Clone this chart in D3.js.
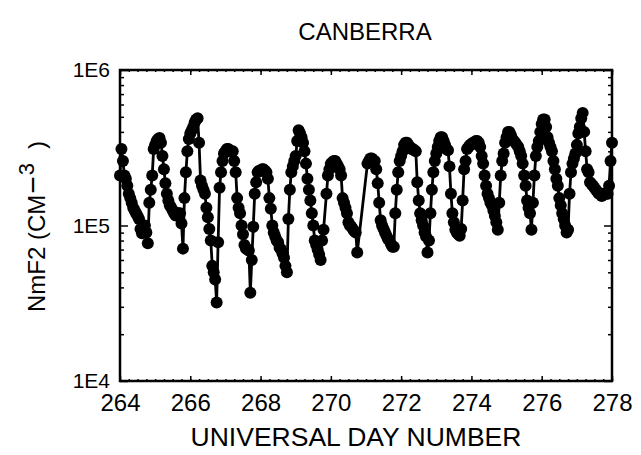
<!DOCTYPE html>
<html>
<head>
<meta charset="utf-8">
<script src="https://cdn.jsdelivr.net/npm/d3@7"></script>
<style>
  body { margin: 0; background: #fff; }
  text { font-family: "Liberation Sans", Arial, sans-serif; fill: #000; }
  .axis path { display: none; }
  .axis line { stroke: #000; stroke-width: 1.5; }
</style>
</head>
<body>
<div id="chart"></div>
<script>
//
// NmF2 over Canberra, hourly samples (units of 1E5 per cm^3)
// null = no sounding that hour, the trace is joined across the gap
//
var startDay = 264, stepHours = 1;

var day264 = [2.1, 3.1, 2.6, 2.1, 2.0, 1.8, 1.6, 1.5, 1.4, 1.3, 1.25, 1.2,
              1.15, 1.1, 0.95, 0.89, 0.95, 1.0, 0.9, 0.77, 1.4, 1.7, 2.1, 3.1];
var day265 = [3.3, 3.5, 3.6, 3.65, 3.4, 2.8, 2.3, 1.87, 1.6, 1.45, 1.35, 1.3,
              1.25, 1.2, 1.16, 1.2, 1.2, 1.2, 1.03, 0.71, 1.5, 2.2, 3.0, 3.6];
var day266 = [3.9, 4.1, 4.3, 4.6, 4.8, 4.9, 3.4, 1.95, 1.8, 1.7, 1.6, 1.3,
              1.13, 0.95, 0.8, 0.55, 0.5, 0.45, 0.32, 0.78, 1.75, 2.2, 2.6, 2.9];
var day267 = [3.0, 3.1, 3.1, 3.0, 3.0, 3.0, 2.6, 2.2, 1.5, 1.3, 1.2, 1.0,
              0.88, 0.75, 0.71, 0.7, 0.69, 0.37, 0.6, 0.98, 1.6, 1.9, 2.2, 2.25];
var day268 = [2.25, 2.3, 2.3, 2.25, 2.2, 2.0, 1.5, 1.28, 1.0, 0.9, 0.85, 0.8,
              0.78, 0.72, 0.7, 0.66, 0.62, 0.55, 0.5, 1.1, 1.7, 2.2, 2.4, 2.6];
var day269 = [2.8, 3.5, 4.1, 3.9, 3.7, 3.4, 3.0, 2.5, 2.0, 1.7, 1.45, 1.2,
              1.0, 0.8, 0.75, 0.7, 0.65, 0.6, 0.8, 0.94, null, 1.6, 2.1, 2.3];
var day270 = [2.5, 2.55, 2.6, 2.6, 2.5, 2.4, 2.3, 2.1, 1.5, 1.4, 1.3, 1.2,
              1.05, 1.0, 0.98, 0.95, 0.92, 0.9, 0.67, null, null, null, null, null];
var day271 = [null, 2.5, 2.6, 2.7, 2.7, 2.6, 2.6, 2.3, 1.87, 1.4, 1.08, 1.0,
              0.95, 0.9, 0.86, 0.82, 0.8, 0.76, 0.73, 0.73, 1.2, 1.7, 2.2, 2.6];
var day272 = [2.8, 3.0, 3.3, 3.4, 3.4, 3.3, 3.2, 3.1, 3.1, 3.05, 3.0, 1.9,
              1.45, 1.2, 1.08, 1.0, 0.9, 0.85, 0.67, 0.8, 1.2, 1.7, 2.2, 2.6];
var day273 = [2.9, 3.2, 3.5, 3.7, 3.7, 3.5, 3.3, 3.1, 3.05, 2.4, 1.6, 1.2,
              1.05, 0.94, 0.9, 0.88, 0.86, 0.95, 1.45, 2.3, 2.6, 3.1, 3.2, 3.3];
var day274 = [3.3, 3.4, 3.4, 3.5, 3.5, 3.4, 3.2, 2.8, 2.5, 2.1, 1.8, 1.6,
              1.5, 1.4, 1.35, 1.25, 1.15, 1.05, 0.94, 1.4, 2.1, 2.6, 2.9, 3.4];
var day275 = [3.7, 4.0, 4.0, 3.8, 3.6, 3.5, 3.4, 3.3, 3.2, 3.0, 2.8, 2.5,
              2.1, 1.8, 1.45, 1.3, 1.2, 0.94, 1.4, 2.1, 2.8, 3.2, 3.5, 4.0];
var day276 = [4.5, 4.8, 4.8, 4.3, 3.7, 3.4, 3.2, 3.0, 2.6, 2.3, 2.0, 1.8,
              1.5, 1.35, 1.2, 1.1, 1.0, 0.9, 0.94, 1.6, 2.2, 2.5, 2.7, 2.9];
var day277 = [3.3, 3.9, 4.3, 4.9, 5.3, 4.0, 3.0, 2.3, 2.2, 1.9, 1.85, 1.8,
              1.75, 1.7, 1.65, 1.6, 1.6, 1.55, 1.6, 1.6, 1.6, 1.6, 1.8, 2.6];
var day278 = [3.4];

var xTicks = [264, 266, 268, 270, 272, 274, 276, 278];
var yTicks = [1e4, 1e5, 1e6];
var yTickLabels = ["1E4", "1E5", "1E6"];

var nmf2 = [].concat(day264, day265, day266, day267, day268, day269, day270,
  day271, day272, day273, day274, day275, day276, day277, day278);

var data = nmf2.map(function(v, i) {
  return {day: startDay + i * stepHours / 24, value: v == null ? null : v * 1e5};
}).filter(function(d) { return d.value != null; });

var margin = {top: 70, right: 29, bottom: 74, left: 120};
var W = 641, H = 455;
var width = W - margin.left - margin.right,
    height = H - margin.top - margin.bottom;

var x = d3.scaleLinear().domain([264, 278]).range([0, width]);
var y = d3.scaleLog().domain([1e4, 1e6]).range([height, 0]);

var svg = d3.select("#chart").append("svg")
  .attr("width", W)
  .attr("height", H);

svg.append("text")
  .attr("x", 365)
  .attr("y", 40)
  .attr("text-anchor", "middle")
  .style("font-size", "24px")
  .text("CANBERRA");

var g = svg.append("g")
  .attr("transform", "translate(" + margin.left + "," + margin.top + ")");

// minor ticks
var xMinor = d3.range(264, 278.001, 0.25);
var yMinor = [];
[1e4, 1e5].forEach(function(d) {
  for (var k = 2; k <= 9; k++) yMinor.push(d * k);
});

g.append("g").attr("class", "axis")
  .attr("transform", "translate(0," + height + ")")
  .call(d3.axisBottom(x).tickValues(xMinor).tickSize(-2).tickFormat(""));
g.append("g").attr("class", "axis")
  .call(d3.axisTop(x).tickValues(xMinor).tickSize(-2).tickFormat(""));
g.append("g").attr("class", "axis")
  .call(d3.axisLeft(y).tickValues(yMinor).tickSize(-4).tickFormat(""));
g.append("g").attr("class", "axis")
  .attr("transform", "translate(" + width + ",0)")
  .call(d3.axisRight(y).tickValues(yMinor).tickSize(-4).tickFormat(""));

// major ticks with labels
var xAxis = g.append("g").attr("class", "axis")
  .attr("transform", "translate(0," + height + ")")
  .call(d3.axisBottom(x).tickValues(xTicks).tickSize(-5).tickPadding(13)
    .tickFormat(d3.format("d")));
xAxis.selectAll("text").style("font-size", "24px");

g.append("g").attr("class", "axis")
  .call(d3.axisTop(x).tickValues(xTicks).tickSize(-5).tickFormat(""));

var yAxis = g.append("g").attr("class", "axis")
  .call(d3.axisLeft(y).tickValues(yTicks).tickSize(-8).tickPadding(10)
    .tickFormat(function(d, i) { return yTickLabels[i]; }));
yAxis.selectAll("text").style("font-size", "21px");

g.append("g").attr("class", "axis")
  .attr("transform", "translate(" + width + ",0)")
  .call(d3.axisRight(y).tickValues(yTicks).tickSize(-8).tickFormat(""));

// frame
g.append("rect")
  .attr("width", width)
  .attr("height", height)
  .attr("fill", "none")
  .attr("stroke", "#000")
  .attr("stroke-width", 2.5);

// series
var line = d3.line()
  .x(function(d) { return x(d.day); })
  .y(function(d) { return y(d.value); });

g.append("path")
  .datum(data)
  .attr("fill", "none")
  .attr("stroke", "#000")
  .attr("stroke-width", 2.8)
  .attr("d", line);

g.selectAll(".dot")
  .data(data)
  .enter().append("circle")
  .attr("class", "dot")
  .attr("cx", function(d) { return x(d.day); })
  .attr("cy", function(d) { return y(d.value); })
  .attr("r", 6)
  .attr("fill", "#000");

// axis titles
svg.append("text")
  .attr("x", 356)
  .attr("y", 446)
  .attr("text-anchor", "middle")
  .style("font-size", "26.5px")
  .text("UNIVERSAL DAY NUMBER");

var yt = svg.append("text")
  .attr("transform", "translate(45,312)rotate(-90)")
  .attr("text-anchor", "start")
  .style("font-size", "24px");
yt.append("tspan").text("NmF2 (CM");
yt.append("tspan").attr("dy", -2).attr("dx", 1).style("font-size", "30px").text("\u2212");
yt.append("tspan").attr("dy", -9).attr("dx", 1).style("font-size", "22px").text("3");
yt.append("tspan").attr("dy", 11).attr("dx", 14).text(")");
</script>
</body>
</html>
